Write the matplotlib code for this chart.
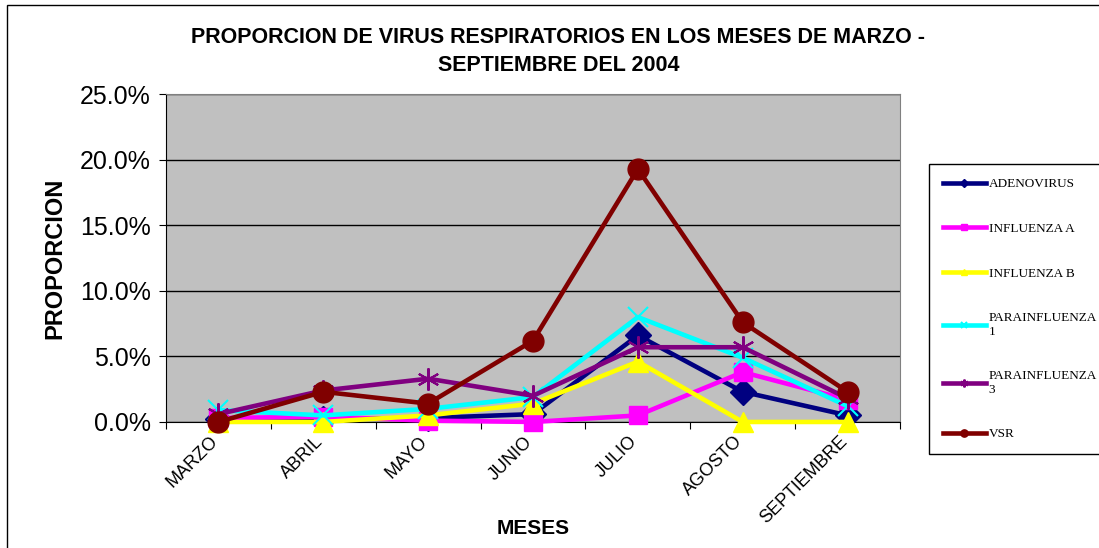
import matplotlib.pyplot as plt
import matplotlib.transforms as mtransforms
from matplotlib.patches import Rectangle
from matplotlib.ticker import PercentFormatter

# data (percent)
meses = ['MARZO', 'ABRIL', 'MAYO', 'JUNIO', 'JULIO', 'AGOSTO', 'SEPTIEMBRE']
adenovirus = [0.2, 0.2, 0.3, 0.6, 6.6, 2.3, 0.5]
influenza_a = [0.3, 0.4, 0.1, 0.0, 0.5, 3.8, 1.7]
influenza_b = [0.0, 0.0, 0.5, 1.4, 4.6, 0.0, 0.0]
parainfluenza_1 = [0.9, 0.5, 1.0, 1.9, 8.0, 4.9, 1.2]
parainfluenza_3 = [0.6, 2.4, 3.3, 2.0, 5.7, 5.7, 1.8]
vsr = [0.0, 2.3, 1.4, 6.2, 19.3, 7.6, 2.3]

series = [
    ('ADENOVIRUS', adenovirus, '#000080', 'D', 13),
    ('INFLUENZA A', influenza_a, '#FF00FF', 's', 13),
    ('INFLUENZA B', influenza_b, '#FFFF00', '^', 14),
    ('PARAINFLUENZA\n1', parainfluenza_1, '#00FFFF', 'x', 14),
    ('PARAINFLUENZA\n3', parainfluenza_3, '#800080', (6, 2, 0), 16),
    ('VSR', vsr, '#800000', 'o', 15),
]

plt.rcParams['font.family'] = ['Liberation Sans', 'DejaVu Sans']

fig = plt.figure(figsize=(10.99, 5.48), dpi=100)
fig.patches.append(Rectangle((7 / 1099, -0.1), 1.2, 1.1 - 5 / 548,
                             transform=fig.transFigure, fill=False,
                             edgecolor='black', linewidth=1))

ax = fig.add_axes([0.151, 0.230, 0.668, 0.598])
ax.set_facecolor('#C0C0C0')

x = list(range(len(meses)))
for name, vals, color, marker, ms in series:
    thin = marker in ('x',) or isinstance(marker, tuple)
    ax.plot(x, vals, color=color, linewidth=3.3, marker=marker,
            markersize=ms, markeredgewidth=1.5 if thin else 1,
            markeredgecolor=color, markerfacecolor=color,
            label=name, clip_on=False, zorder=3)

ax.set_xlim(-0.5, len(meses) - 0.5)
ax.set_ylim(0, 25)
ax.set_yticks([0, 5, 10, 15, 20, 25])
ax.yaxis.set_major_formatter(PercentFormatter(decimals=1))
ax.grid(axis='y', color='black', linewidth=1)
ax.set_axisbelow(True)

ax.set_xticks([i - 0.5 for i in range(len(meses) + 1)])
ax.set_xticklabels([])
ax.set_xticks(x, minor=True)
ax.set_xticklabels(meses, minor=True, rotation=45, ha='right',
                   rotation_mode='anchor', fontsize=13)
ax.tick_params(axis='x', which='minor', length=0, pad=8)
ax.tick_params(axis='x', which='major', length=5, direction='out')
ax.tick_params(axis='y', labelsize=18, length=5, direction='out', pad=6)

# nudge month labels a little to the left, like the original
shift = mtransforms.ScaledTranslation(-9 / 100, 0, fig.dpi_scale_trans)
for lbl in ax.get_xticklabels(minor=True):
    lbl.set_transform(lbl.get_transform() + shift)

for side in ['top', 'right']:
    ax.spines[side].set_color('#808080')
ax.spines['left'].set_color('black')
ax.spines['bottom'].set_color('black')

ax.set_xlabel('MESES', fontsize=15, fontweight='bold', labelpad=-6)
ax.set_ylabel('PROPORCION', fontsize=17, fontweight='bold', labelpad=10)

fig.text(0.508, 0.906, 'PROPORCION DE VIRUS RESPIRATORIOS EN LOS MESES DE MARZO -\nSEPTIEMBRE DEL 2004',
         ha='center', va='center', fontsize=15.5, fontweight='bold', linespacing=1.45)

leg = fig.legend(loc='upper left', bbox_to_anchor=(0.845, 0.700),
                 prop={'family': 'Liberation Serif', 'size': 9.5},
                 frameon=True, fancybox=False, edgecolor='black',
                 framealpha=1, markerscale=0.35, handlelength=3.3,
                 handletextpad=0.2, labelspacing=2.45, borderpad=1.05,
                 borderaxespad=0)
leg.get_frame().set_linewidth(1)

fig.savefig('out.png', dpi=100)
